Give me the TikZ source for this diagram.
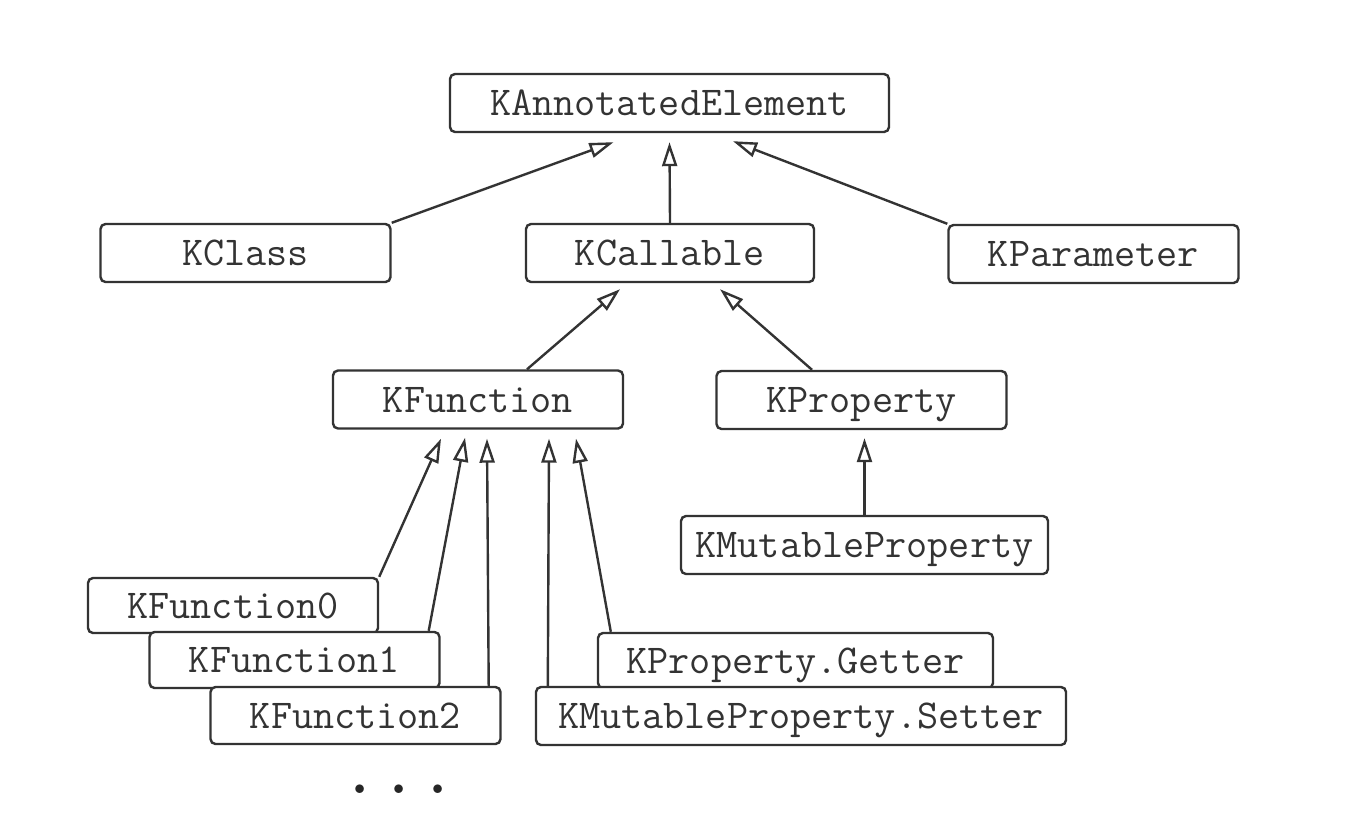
\documentclass[tikz,border=0pt]{standalone}
\usetikzlibrary{shapes,arrows.meta,positioning}

\begin{document}
\begin{tikzpicture}[
  x=0.5pt, y=-0.5pt,
  cls/.style={
    rectangle,
    rounded corners=2.5pt,
    draw=black!80,
    line width=1.2pt,
    fill=white,
    text=black!80,
    minimum width=145pt,
    minimum height=29pt,
    inner sep=0pt,
    text height=12.5pt,
    text depth=0pt,
    font=\fontsize{20.5}{22}\selectfont\ttfamily
  },
  more/.style={inner sep=0pt, text=black!85, font=\fontsize{38}{40}\selectfont\ttfamily},
  flow/.style={->, line width=1.2pt, draw=black!80, >={Triangle[open, length=12pt, width=7.5pt]}}
]
\useasboundingbox (0,0) rectangle (1352,826);

% --- RADICE --------------------------------------------------------
\node[cls, minimum width=219.5pt] (ann) at (669.5,103) {KAnnotatedElement};

% --- SECONDO LIVELLO -----------------------------------------------
\node[cls] (kclass) at (245.5,253) {KClass};
\node[cls, minimum width=144pt] (kcall) at (670,253) {KCallable};
\node[cls] (kparam) at (1093.5,254) {KParameter};

% --- FUNZIONI E PROPRIETA' -----------------------------------------
\node[cls] (kfun) at (478,399.5) {KFunction};
\node[cls] (kprop) at (861.5,400) {KProperty};
\node[cls, minimum width=183.5pt] (kmut) at (864.5,545) {KMutableProperty};

% --- KFunctionN ----------------------------------------------------
\node[cls, minimum height=27.5pt] (fun0) at (233,605.5) {KFunction0};
\node[cls, minimum height=28pt] (fun1) at (294.5,660) {KFunction1};
\node[cls, minimum height=28.5pt] (fun2) at (355.5,715.5) {KFunction2};
\node[more] (dots) at (399,789) {...};

% --- ACCESSORI -----------------------------------------------------
\node[cls, minimum width=197.5pt, minimum height=27.5pt] (getter) at (795.5,660.5) {KProperty.Getter};
\node[cls, minimum width=265pt] (setter) at (801,716) {KMutableProperty.Setter};

% --- FRECCE --------------------------------------------------------
\draw[flow] (kclass.north east) -- ([xshift=-28pt,yshift=-4.5pt]ann.south);
\draw[flow] (kcall.north) -- ([yshift=-4.5pt]ann.south);
\draw[flow] (kparam.north west) -- ([xshift=31.75pt,yshift=-4pt]ann.south);
\draw[flow] ([xshift=24.5pt]kfun.north) -- ([xshift=-25pt,yshift=-3pt]kcall.south);
\draw[flow] ([xshift=-24.75pt]kprop.north) -- ([xshift=25pt,yshift=-3pt]kcall.south);
\draw[flow] (kmut.north) -- ([xshift=1.5pt,yshift=-4pt]kprop.south);
\draw[flow] (fun0.north east) -- ([xshift=-18.5pt,yshift=-4.5pt]kfun.south);
\draw[flow] ([xshift=-6pt]fun1.north east) -- ([xshift=-6.5pt,yshift=-4pt]kfun.south);
\draw[flow] ([xshift=-6.5pt]fun2.north east) -- ([xshift=4.5pt,yshift=-4.5pt]kfun.south);
\draw[flow] ([xshift=6.5pt]setter.north west) -- ([xshift=35.5pt,yshift=-4.5pt]kfun.south);
\draw[flow] ([xshift=7pt]getter.north west) -- ([xshift=49pt,yshift=-4.5pt]kfun.south);

\end{tikzpicture}
\end{document}
